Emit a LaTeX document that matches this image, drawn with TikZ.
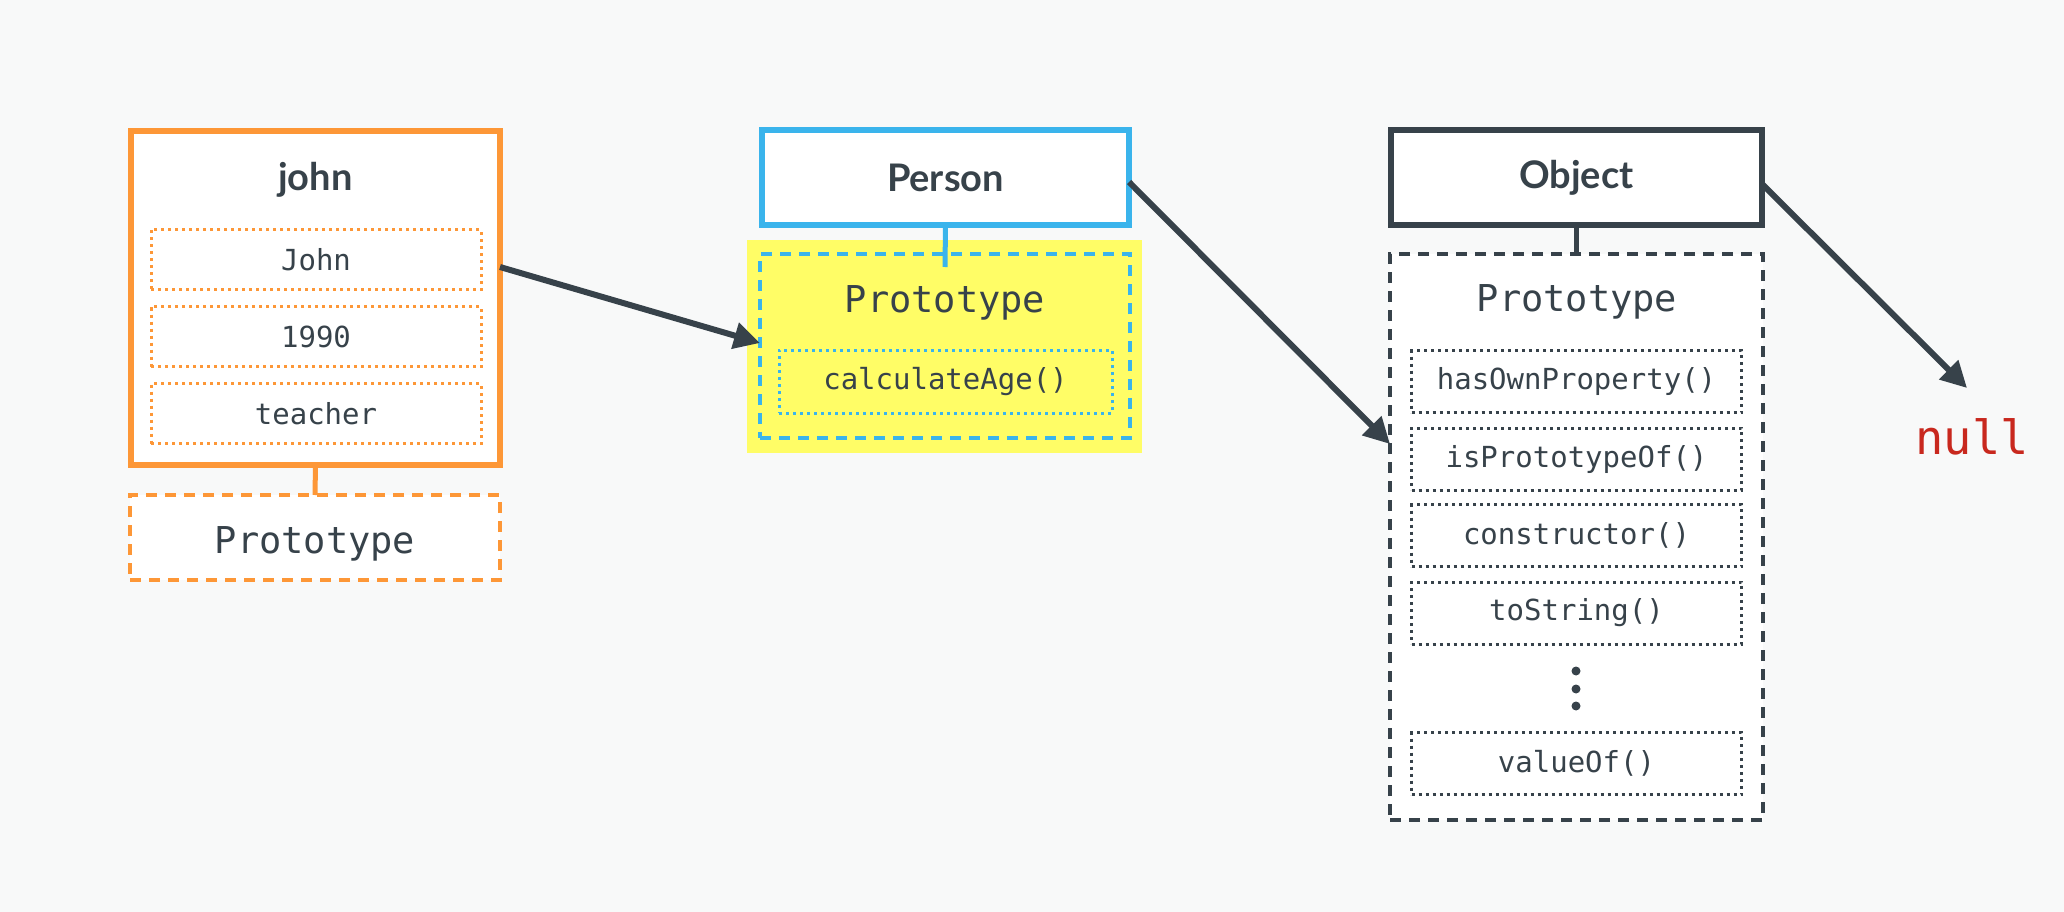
\documentclass[tikz,border=0pt]{standalone}
\usepackage{fontspec}
\usetikzlibrary{arrows.meta,calc}
\newfontfamily\latofont{Lato}
\newfontfamily\monofont{DejaVu Sans Mono}
\definecolor{bgc}{RGB}{248,249,249}
\definecolor{orng}{RGB}{253,151,55}
\definecolor{blu}{RGB}{58,180,236}
\definecolor{drk}{RGB}{55,66,74}
\definecolor{yel}{RGB}{255,253,102}
\definecolor{nullred}{RGB}{200,40,30}
\tikzset{
  box/.style={draw, fill=white, line width=6pt, inner sep=0pt, outer sep=0pt, text=drk},
  title/.style={font=\latofont\bfseries\fontsize{38}{40}\selectfont, text=drk, inner sep=0pt},
  protolabel/.style={font=\monofont\fontsize{37}{40}\selectfont, text=drk, inner sep=0pt},
  item/.style={draw, fill=white, line width=3pt, dash pattern=on 3pt off 4pt, inner sep=0pt, outer sep=0pt,
    font=\monofont\fontsize{29}{32}\selectfont, text=drk, minimum width=330pt, minimum height=60pt},
  dashbox/.style={draw, fill=white, line width=4.5pt, dash pattern=on 11pt off 8pt, inner sep=0pt, outer sep=0pt},
  link/.style={line width=5pt},
  arr/.style={draw=drk, line width=6pt, -{Triangle[length=26pt,width=26pt]}},
}
\begin{document}
\begin{tikzpicture}[x=1pt,y=-1pt]
\fill[bgc] (0,0) rectangle (2064,912);
\useasboundingbox (0,0) rectangle (2064,912);

% ---------- john ----------
\node[box, draw=orng, minimum width=369pt, minimum height=334pt] (john) at (315.5,298) {};
\node[title] (johnt) at (315.5,180) {john};
\node[item, draw=orng] (iJohn) at (316,259.5) {John};
\node[item, draw=orng] (i1990) at (316,336.5) {1990};
\node[item, draw=orng] (iteach) at (316,413.5) {teacher};
\node[dashbox, draw=orng, minimum width=370pt, minimum height=85pt] (jproto) at (315,537.5) {};
\node[protolabel] (jprotot) at (315,544) {Prototype};
\draw[link, draw=orng] (john.south) -- (jproto.north);

% ---------- Person ----------
\node[box, draw=blu, minimum width=367pt, minimum height=95pt] (person) at (945.5,178) {};
\node[title] (persont) at (945.5,178) {Person};
\fill[yel] (747,240) rectangle (1142,453);
\node[dashbox, draw=blu, fill=none, minimum width=370pt, minimum height=184pt] (pproto) at (945,346) {};
\node[protolabel] (pprotot) at (945,303) {Prototype};
\node[item, draw=blu, fill=none, minimum width=333pt, minimum height=63pt] (calc) at (945.5,381.5) {calculateAge()};
\draw[link, draw=blu] (person.south) -- ([yshift=-13pt]pproto.north);

% ---------- Object ----------
\node[box, draw=drk, minimum width=371pt, minimum height=95pt] (object) at (1576.5,178) {};
\node[title] (objectt) at (1576.5,178) {Object};
\node[dashbox, draw=drk, minimum width=373pt, minimum height=566pt] (oproto) at (1576.5,537) {};
\node[protolabel] (oprotot) at (1577,302) {Prototype};
\node[item, draw=drk, minimum height=62pt] (hasown) at (1576.5,381.5) {hasOwnProperty()};
\node[item, draw=drk, minimum height=62pt] (isproto) at (1576.5,459) {isPrototypeOf()};
\node[item, draw=drk, minimum height=62pt] (constr) at (1576.5,535.5) {constructor()};
\node[item, draw=drk, minimum height=62pt] (tostr) at (1576.5,613) {toString()};
\fill[drk] (1576,671) circle (4.5pt) (1576,689) circle (4.5pt) (1576,706) circle (4.5pt);
\node[item, draw=drk, minimum height=62pt] (valueof) at (1576.5,763.5) {valueOf()};
\draw[link, draw=drk] (object.south) -- (oproto.north);

% ---------- null ----------
\node[font=\monofont\fontsize{47}{50}\selectfont, text=nullred, inner sep=0pt] (null) at (1972,437) {null};
\coordinate (nulltip) at (1967,388);

% ---------- arrows ----------
\draw[arr] ($(john.east)+(0,-31)$) -- ($(pproto.west)+(0,-3)$);
\draw[arr] ($(person.east)+(0,4)$) -- ($(oproto.west)+(0,-93)$);
\draw[arr] ($(object.east)+(0,6)$) -- (nulltip);
\end{tikzpicture}
\end{document}
